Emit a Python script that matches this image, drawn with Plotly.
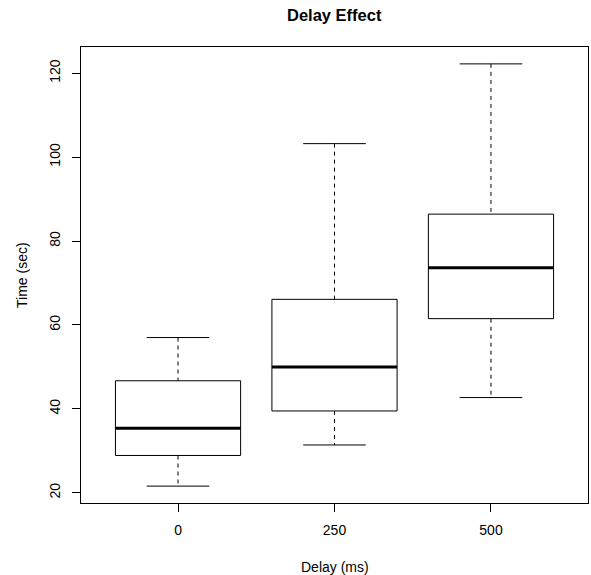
import plotly.graph_objects as go

# ---- data ----
categories = ["0", "250", "500"]
lower_whisker = [21.6, 31.4, 42.7]
q1 = [28.9, 39.5, 61.5]
median = [35.4, 50.0, 73.6]
q3 = [46.7, 66.1, 86.4]
upper_whisker = [57.0, 103.2, 122.2]
y_ticks = [20, 40, 60, 80, 100, 120]

FONT = "Liberation Sans, Arial, Helvetica, sans-serif"
BOX_HALF = 0.4
CAP_HALF = 0.2

fig = go.Figure()
positions = list(range(1, len(categories) + 1))

for i, p in enumerate(positions):
    # dashed whiskers
    fig.add_trace(go.Scatter(
        x=[p, p, None, p, p],
        y=[upper_whisker[i], q3[i], None, q1[i], lower_whisker[i]],
        mode="lines", line=dict(color="black", width=1, dash="4px,4px"),
        hoverinfo="skip", showlegend=False))
    # caps
    fig.add_trace(go.Scatter(
        x=[p - CAP_HALF, p + CAP_HALF, None, p - CAP_HALF, p + CAP_HALF],
        y=[upper_whisker[i], upper_whisker[i], None, lower_whisker[i], lower_whisker[i]],
        mode="lines", line=dict(color="black", width=1),
        hoverinfo="skip", showlegend=False))
    # box
    fig.add_trace(go.Scatter(
        x=[p - BOX_HALF, p + BOX_HALF, p + BOX_HALF, p - BOX_HALF, p - BOX_HALF],
        y=[q1[i], q1[i], q3[i], q3[i], q1[i]],
        mode="lines", line=dict(color="black", width=1),
        hoverinfo="skip", showlegend=False))
    # median
    fig.add_trace(go.Scatter(
        x=[p - BOX_HALF, p + BOX_HALF],
        y=[median[i], median[i]],
        mode="lines", line=dict(color="black", width=3),
        hoverinfo="skip", showlegend=False))

lo = min(lower_whisker)
hi = max(upper_whisker)
pad = 0.04 * (hi - lo)
n = len(categories)
xpad = 0.04 * n

fig.update_layout(
    width=591, height=575,
    margin=dict(l=81, r=3, t=47, b=72),
    paper_bgcolor="white", plot_bgcolor="white",
    font=dict(family=FONT, size=14, color="black"),
    showlegend=False,
    xaxis=dict(
        range=[0.5 - xpad, n + 0.5 + xpad],
        tickmode="array", tickvals=positions, ticktext=categories,
        showgrid=False, zeroline=False,
        showline=True, mirror=True, linecolor="black", linewidth=1,
        ticks="outside", ticklen=8, tickcolor="black", tickwidth=1,
        ticklabelstandoff=6,
        tickfont=dict(family=FONT, size=14, color="black"),
    ),
    yaxis=dict(
        range=[lo - pad, hi + pad],
        tickmode="array", tickvals=y_ticks,
        showgrid=False, zeroline=False,
        showline=True, mirror=True, linecolor="black", linewidth=1,
        ticks="outside", ticklen=8, tickcolor="black", tickwidth=1,
        tickangle=-90, ticklabelstandoff=6,
        tickfont=dict(family=FONT, size=14, color="black"),
    ),
    annotations=[
        dict(text="<b>Delay Effect</b>", xref="paper", yref="paper",
             x=0.5, y=1, yshift=32, xanchor="center", yanchor="middle",
             showarrow=False, font=dict(family=FONT, size=16.5, color="black")),
        dict(text="Delay (ms)", xref="paper", yref="paper",
             x=0.5, y=0, yshift=-64, xanchor="center", yanchor="middle",
             showarrow=False, font=dict(family=FONT, size=14, color="black")),
        dict(text="Time (sec)", xref="paper", yref="paper",
             x=0, y=0.5, xshift=-59, textangle=-90,
             xanchor="center", yanchor="middle",
             showarrow=False, font=dict(family=FONT, size=14, color="black")),
    ],
)

fig.write_html(
    "out.html",
    config={"displayModeBar": False, "staticPlot": True},
    post_script="document.body.style.margin='0';document.body.style.overflow='hidden';",
)
